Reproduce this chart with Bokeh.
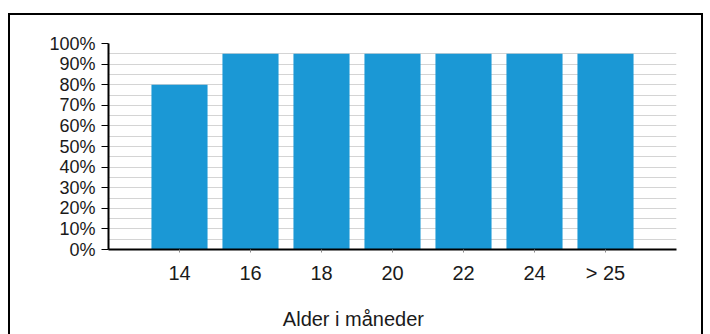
from bokeh.plotting import figure
from bokeh.models import ColumnDataSource, FixedTicker, LinearAxis
from bokeh.embed import file_html
from bokeh.resources import INLINE

# Age groups (months) and share of children
categories = ["14", "16", "18", "20", "22", "24", "> 25"]
shares = [80, 95, 95, 95, 95, 95, 95]
y_ticks = [0, 10, 20, 30, 40, 50, 60, 70, 80, 90, 100]
y_tick_labels = [f"{t}%" for t in y_ticks]
x_title = "Alder i måneder"

FONT = "Liberation Sans"
BAR_COLOR = "#1b98d5"
TEXT_COLOR = "#1a1a1a"

positions = list(range(1, len(categories) + 1))
source = ColumnDataSource(dict(x=positions, top=shares, label=categories))

p = figure(width=691, height=319, output_backend="svg", toolbar_location=None,
           x_range=(0, len(categories) + 1), y_range=(0, 100),
           min_border_left=98, min_border_right=29,
           min_border_top=28, min_border_bottom=87)
# black frame drawn round the whole chart, open at the bottom
p.styles = {"border": "2px solid black", "border-bottom": "none",
            "margin-left": "8px", "margin-top": "13px",
            "box-sizing": "content-box"}
p.outline_line_color = None
p.background_fill_color = "white"
p.border_fill_color = "white"

p.vbar(x="x", top="top", width=0.79, bottom=0, source=source,
       fill_color=BAR_COLOR, line_color=None)

# x axis
p.xaxis.ticker = FixedTicker(ticks=positions)
p.xaxis.major_label_overrides = {pos: lab for pos, lab in zip(positions, categories)}
p.xaxis.axis_line_color = "black"
p.xaxis.axis_line_width = 2
p.xaxis.major_tick_line_color = "#888888"
p.xaxis.major_tick_in = 0
p.xaxis.major_tick_out = 3
p.xaxis.minor_tick_line_color = None
p.xaxis.major_label_text_font = FONT
p.xaxis.major_label_text_font_size = "20px"
p.xaxis.major_label_text_color = TEXT_COLOR
p.xaxis.major_label_standoff = 9

# axis title, set a little left of the frame centre, as a bare second axis
title_pos = 3.45
title_axis = LinearAxis(ticker=FixedTicker(ticks=[title_pos]),
                        major_label_overrides={title_pos: x_title},
                        axis_line_color=None, major_tick_line_color=None,
                        minor_tick_line_color=None, major_tick_out=0,
                        major_label_standoff=21,
                        major_label_text_font=FONT,
                        major_label_text_font_size="20px",
                        major_label_text_color=TEXT_COLOR)
p.add_layout(title_axis, "below")

# y axis
p.yaxis.ticker = FixedTicker(ticks=y_ticks)
p.yaxis.major_label_overrides = {t: lab for t, lab in zip(y_ticks, y_tick_labels)}
p.yaxis.axis_line_color = "black"
p.yaxis.axis_line_width = 2
p.yaxis.major_tick_line_color = "black"
p.yaxis.major_tick_line_width = 1
p.yaxis.major_tick_in = 0
p.yaxis.major_tick_out = 7
p.yaxis.minor_tick_line_color = None
p.yaxis.major_label_text_font = FONT
p.yaxis.major_label_text_font_size = "18px"
p.yaxis.major_label_text_color = TEXT_COLOR
p.yaxis.major_label_standoff = 6

# grid: horizontal lines every 5 %
p.xgrid.grid_line_color = None
p.ygrid.ticker = FixedTicker(ticks=list(range(0, 101, 5)))
p.ygrid.grid_line_color = "#d4d4d4"
p.ygrid.grid_line_width = 1

open("out.html", "w").write(file_html(p, INLINE))
